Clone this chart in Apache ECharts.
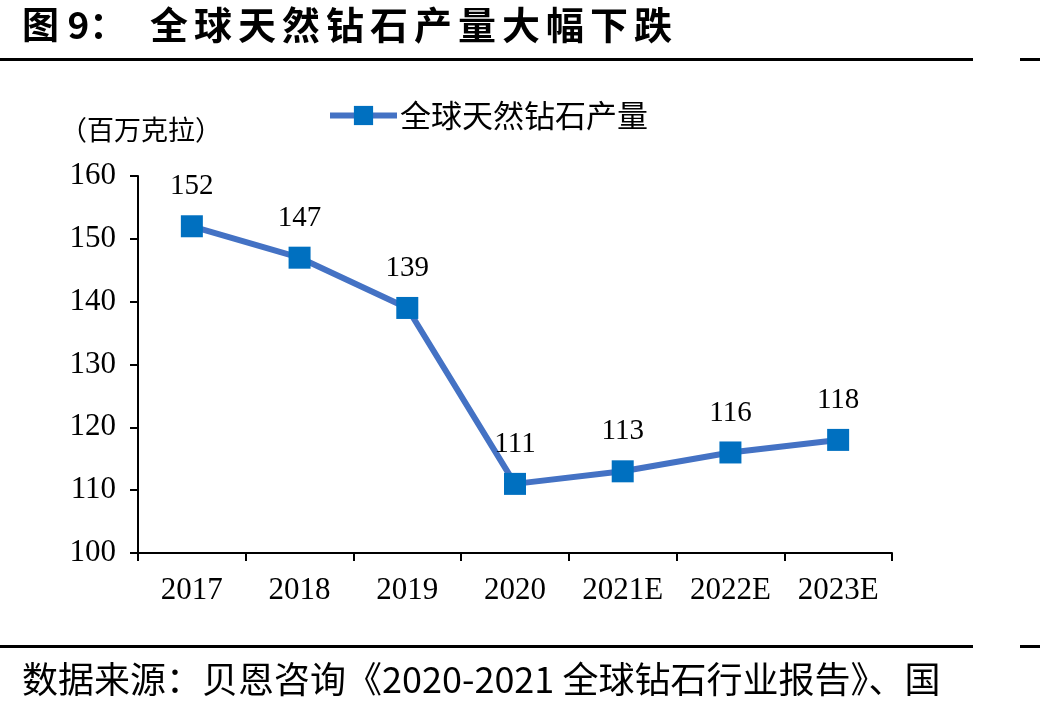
<!DOCTYPE html>
<html>
<head>
<meta charset="utf-8">
<script src="https://cdn.jsdelivr.net/npm/echarts@6/dist/echarts.min.js"></script>
<style>
    html, body { margin: 0; padding: 0; background: #fff; }
    #Echarts1 { width: 1040px; height: 716px; }
</style>
</head>
<body>
<div id="Echarts1"></div>
<script>
/************** 数据 ***************/
var years = ['2017', '2018', '2019', '2020', '2021E', '2022E', '2023E'];
var output = [152, 147, 139, 111, 113, 116, 118];
var seriesName = '全球天然钻石产量';
var titleHead = '图 9：';
var titleBody = '全球天然钻石产量大幅下跌';
var unitText = '（百万克拉）';
var sourceText = '数据来源：贝恩咨询《2020-2021 全球钻石行业报告》、国';

var cjkFont = '"Noto Sans CJK SC", sans-serif';
var numFont = '"Liberation Serif", "Times New Roman", serif';

/**
 * 标题：逐字排开，字距加宽
 * */
function buildTitle() {
    var items = [{
        type: 'text', left: 22, top: 6,
        style: { text: titleHead, font: 'bold 37px ' + cjkFont, fill: '#000' }
    }];
    for (var i = 0; i < titleBody.length; i++) {
        items.push({
            type: 'text', left: 150 + i * 44, top: 6,
            style: { text: titleBody.charAt(i), font: 'bold 38px ' + cjkFont, fill: '#000' }
        });
    }
    return items;
}

/**
 * 初始化统计图表
 * */
function initEcharts1() {
    var myChart = echarts.init(document.getElementById('Echarts1'));

    var graphics = buildTitle().concat([
        { type: 'rect', shape: { x: 0, y: 58, width: 973, height: 3 }, style: { fill: '#000' } },
        { type: 'rect', shape: { x: 1020, y: 58, width: 20, height: 3 }, style: { fill: '#000' } },
        {
            type: 'text', left: 60, top: 116,
            style: { text: unitText, font: '27px ' + cjkFont, fill: '#000' }
        },
        { type: 'rect', shape: { x: 0, y: 645, width: 973, height: 3 }, style: { fill: '#000' } },
        { type: 'rect', shape: { x: 1020, y: 645, width: 20, height: 3 }, style: { fill: '#000' } },
        {
            type: 'text', left: 22, top: 661,
            style: { text: sourceText, font: '36px ' + cjkFont, fill: '#000' }
        }
    ]);

    var option = {
        backgroundColor: '#fff',
        animation: false,
        legend: {
            data: [seriesName],
            left: 327,
            top: 100,
            padding: 0,
            itemWidth: 67,
            itemHeight: 24,
            itemGap: 0,
            lineStyle: { width: 6, color: '#4472C4' },
            itemStyle: { color: '#0070C0' },
            textStyle: { fontFamily: cjkFont, fontSize: 31, color: '#000', padding: [0, 0, 0, -2] }
        },
        grid: {
            left: 138,
            right: 148,
            top: 176,
            bottom: 163
        },
        xAxis: {
            type: 'category',
            data: years,
            boundaryGap: true,
            axisLine: { lineStyle: { color: '#000', width: 2 } },
            axisTick: { show: true, length: 8, lineStyle: { color: '#000', width: 2 } },
            axisLabel: { fontFamily: numFont, fontSize: 31, color: '#000', margin: 22 }
        },
        yAxis: {
            type: 'value',
            min: 100,
            max: 160,
            interval: 10,
            splitLine: { show: false },
            axisLine: { show: true, lineStyle: { color: '#000', width: 2 } },
            axisTick: { show: true, length: 8, lineStyle: { color: '#000', width: 2 } },
            axisLabel: { fontFamily: numFont, fontSize: 31, color: '#000', margin: 22 }
        },
        series: [
            {
                name: seriesName,
                type: 'line',
                data: output,
                symbol: 'rect',
                symbolSize: 22,
                lineStyle: { color: '#4472C4', width: 6 },
                itemStyle: { color: '#0070C0' },
                label: {
                    show: true,
                    position: 'top',
                    distance: 14,
                    fontFamily: numFont,
                    fontSize: 29,
                    color: '#000'
                }
            }
        ],
        graphic: graphics
    };

    myChart.setOption(option);
}

initEcharts1();
</script>
</body>
</html>
